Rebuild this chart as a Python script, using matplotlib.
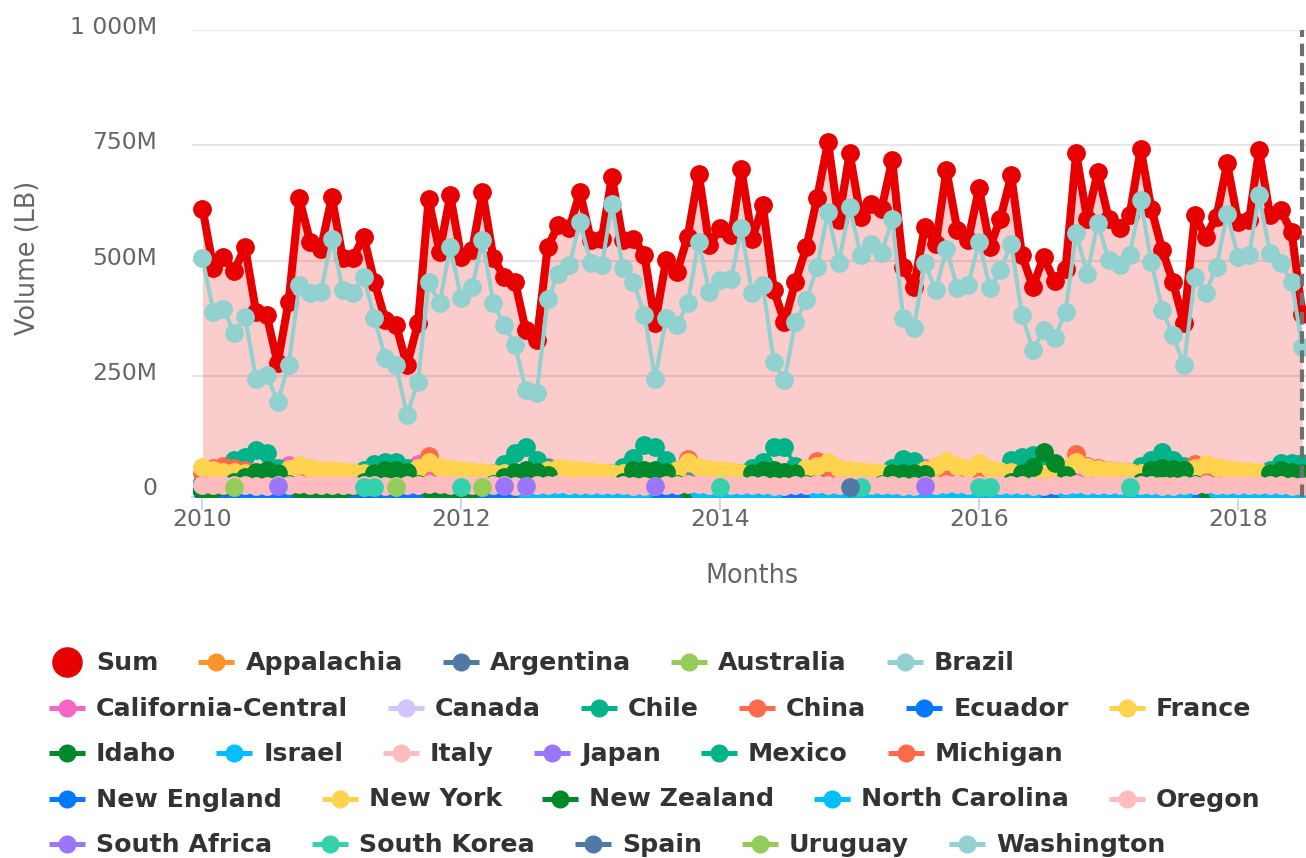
import numpy as np
import pandas as pd
import matplotlib
matplotlib.use("Agg")
import matplotlib.pyplot as plt
import matplotlib.dates as mdates
from matplotlib.transforms import ScaledTranslation

# ---------------- data (million lb) ----------------
months = pd.date_range("2010-01-01", periods=103, freq="MS")

sum_vals = [
    613, 483, 507, 478, 530, 389, 382, 277, 411, 635, 541, 526,
    638, 505, 505, 552, 454, 371, 360, 273, 364, 633, 519, 642,
    508, 523, 649, 505, 465, 454, 349, 327, 530, 577, 570, 649,
    544, 548, 682, 544, 548, 512, 364, 501, 476, 552, 689, 534,
    570, 555, 700, 548, 620, 436, 367, 454, 530, 635, 758, 588,
    733, 595, 624, 613, 718, 487, 443, 573, 537, 696, 566, 544,
    657, 530, 591, 685, 512, 443, 508, 456, 481, 733, 591, 693,
    591, 570, 599, 743, 613, 523, 454, 364, 599, 552, 595, 711,
    584, 588, 740, 599, 610, 562, 385]

washington = [
    505, 389, 396, 342, 378, 244, 252, 194, 273, 447, 429, 432,
    548, 436, 429, 465, 375, 288, 273, 165, 237, 454, 407, 530,
    418, 443, 544, 407, 360, 317, 219, 213, 416, 472, 490, 584,
    494, 490, 624, 483, 454, 382, 244, 375, 360, 407, 541, 432,
    458, 461, 570, 429, 447, 280, 241, 367, 414, 487, 606, 494,
    617, 512, 537, 516, 591, 375, 353, 494, 436, 526, 440, 447,
    541, 440, 479, 537, 382, 306, 349, 331, 389, 559, 472, 581,
    501, 490, 512, 631, 497, 393, 338, 273, 465, 429, 487, 602,
    508, 512, 642, 516, 494, 454, 313]

appalachia = [
    3, 3, 2, 2, 2, 1, 1, 2, 4, 5, 4, 3,
    3, 2, 2, 2, 1, 1, 1, 2, 4, 5, 4, 3,
    3, 3, 2, 2, 2, 1, 1, 2, 3, 5, 4, 3,
    3, 2, 2, 2, 1, 1, 1, 2, 4, 6, 4, 3,
    3, 3, 2, 2, 2, 1, 1, 2, 4, 5, 4, 3,
    3, 3, 2, 2, 1, 1, 1, 2, 4, 5, 4, 3,
    3, 2, 2, 2, 2, 1, 1, 2, 4, 5, 4, 3,
    3, 3, 2, 2, 1, 1, 1, 2, 4, 5, 4, 3,
    3, 3, 2, 2, 2, 1, 1]

argentina = [
    0, 1, 1, 2, 2, 1, 1, 0, 0, 0, 0, 0,
    0, 1, 1, 2, 1, 1, 0, 0, 0, 0, 0, 0,
    0, 1, 2, 2, 1, 1, 1, 0, 0, 0, 0, 0,
    0, 1, 1, 2, 2, 1, 0, 0, 0, 0, 0, 0,
    0, 1, 1, 2, 1, 1, 1, 0, 0, 0, 0, 0,
    0, 1, 2, 2, 1, 1, 0, 0, 0, 0, 0, 0,
    0, 1, 1, 2, 2, 1, 1, 0, 0, 0, 0, 0,
    0, 1, 1, 2, 1, 1, 0, 0, 0, 0, 0, 0,
    0, 1, 1, 2, 1, 1, 0]

australia = [
    0, 0, 1, 1, 1, 1, 0, 0, 0, 0, 0, 0,
    0, 0, 1, 1, 1, 0, 0, 0, 0, 0, 0, 0,
    0, 0, 1, 1, 1, 1, 0, 0, 0, 0, 0, 0,
    0, 0, 1, 1, 0, 0, 0, 0, 0, 0, 0, 0,
    0, 0, 1, 1, 1, 0, 0, 0, 0, 0, 0, 0,
    0, 0, 1, 1, 1, 1, 0, 0, 0, 0, 0, 0,
    0, 0, 1, 1, 0, 0, 0, 0, 0, 0, 0, 0,
    0, 0, 1, 1, 1, 0, 0, 0, 0, 0, 0, 0,
    0, 0, 1, 1, 1, 0, 0]

brazil = [
    1, 1, 1, 1, 0, 0, 0, 0, 1, 1, 1, 1,
    1, 1, 1, 0, 0, 0, 0, 1, 1, 1, 1, 1,
    1, 1, 1, 1, 0, 0, 0, 0, 1, 1, 1, 1,
    1, 1, 1, 0, 0, 0, 0, 1, 1, 1, 1, 1,
    1, 1, 1, 1, 0, 0, 0, 0, 1, 1, 1, 1,
    1, 1, 1, 0, 0, 0, 0, 1, 1, 1, 1, 1,
    1, 1, 1, 1, 0, 0, 0, 0, 1, 1, 1, 1,
    1, 1, 1, 0, 0, 0, 0, 1, 1, 1, 1, 1,
    1, 1, 1, 1, 0, 0, 0]

california_central = [
    2, 2, 1, 1, 1, 2, 4, 20, 56, 30, 5, 3,
    2, 2, 1, 1, 1, 2, 4, 22, 59, 28, 5, 3,
    2, 2, 1, 1, 1, 2, 4, 20, 52, 25, 5, 3,
    2, 2, 1, 1, 1, 2, 4, 18, 45, 22, 5, 3,
    2, 2, 1, 1, 1, 2, 6, 52, 40, 20, 5, 3,
    2, 2, 1, 1, 1, 2, 6, 50, 40, 20, 5, 3,
    2, 2, 1, 1, 1, 2, 5, 30, 45, 20, 5, 3,
    2, 2, 1, 1, 1, 2, 5, 30, 44, 20, 5, 3,
    2, 2, 1, 1, 1, 2, 5]

canada = [
    2, 2, 3, 2, 2, 1, 1, 1, 2, 3, 3, 2,
    2, 3, 3, 2, 1, 1, 1, 1, 2, 3, 3, 2,
    2, 2, 3, 2, 2, 1, 1, 1, 2, 3, 2, 2,
    2, 3, 2, 2, 1, 1, 1, 1, 2, 3, 3, 2,
    2, 2, 3, 2, 2, 1, 1, 1, 2, 3, 3, 2,
    2, 3, 3, 2, 1, 1, 1, 1, 2, 3, 2, 2,
    2, 2, 3, 2, 2, 1, 1, 1, 2, 3, 3, 2,
    2, 3, 2, 2, 1, 1, 1, 1, 2, 3, 3, 2,
    2, 2, 3, 2, 2, 1, 1]

chile = [
    20, 25, 40, 67, 74, 89, 82, 49, 25, 15, 12, 15,
    15, 18, 25, 45, 58, 62, 62, 50, 28, 15, 12, 15,
    15, 18, 25, 40, 58, 82, 96, 68, 50, 20, 15, 15,
    15, 20, 40, 52, 72, 100, 95, 68, 45, 20, 15, 15,
    15, 20, 35, 50, 62, 95, 95, 55, 35, 20, 15, 15,
    15, 18, 25, 35, 50, 70, 65, 40, 25, 15, 12, 15,
    15, 20, 30, 67, 74, 78, 63, 56, 30, 15, 12, 15,
    15, 20, 40, 55, 67, 85, 68, 55, 35, 18, 15, 15,
    15, 20, 30, 45, 60, 60, 60]

china = [
    4, 5, 6, 5, 4, 3, 3, 3, 4, 6, 5, 5,
    5, 5, 6, 5, 4, 3, 3, 4, 4, 6, 5, 5,
    4, 5, 6, 5, 4, 3, 3, 3, 5, 6, 5, 4,
    5, 5, 6, 5, 4, 4, 3, 3, 4, 6, 5, 5,
    4, 5, 6, 5, 4, 3, 3, 3, 4, 6, 6, 5,
    5, 5, 6, 5, 4, 3, 3, 4, 4, 6, 5, 5,
    4, 5, 6, 5, 4, 3, 3, 3, 5, 7, 5, 5,
    5, 5, 6, 5, 4, 3, 3, 3, 4, 6, 5, 5,
    4, 5, 6, 5, 4, 3, 3]

ecuador = [
    0, 0, 1, 1, 0, 0, 0, 1, 1, 0, 0, 0,
    0, 1, 1, 0, 0, 0, 1, 1, 0, 0, 0, 0,
    0, 0, 1, 1, 0, 0, 0, 1, 1, 0, 0, 0,
    0, 1, 1, 0, 0, 0, 1, 1, 0, 0, 0, 0,
    0, 0, 1, 1, 0, 0, 0, 1, 1, 0, 0, 0,
    0, 1, 1, 0, 0, 0, 1, 1, 0, 0, 0, 0,
    0, 0, 1, 1, 0, 0, 0, 1, 1, 0, 0, 0,
    0, 1, 1, 0, 0, 0, 1, 1, 0, 0, 0, 0,
    0, 0, 1, 1, 0, 0, 0]

france = [
    8, 7, 7, 6, 6, 5, 5, 6, 8, 10, 9, 8,
    8, 7, 6, 6, 5, 5, 5, 6, 8, 10, 9, 8,
    8, 7, 7, 6, 6, 5, 5, 6, 8, 9, 9, 8,
    8, 7, 6, 6, 5, 5, 5, 6, 8, 10, 9, 8,
    8, 7, 7, 6, 6, 5, 5, 6, 8, 10, 9, 8,
    8, 7, 6, 6, 5, 5, 5, 6, 8, 10, 9, 8,
    8, 7, 7, 6, 6, 5, 5, 6, 8, 10, 9, 8,
    8, 7, 6, 6, 5, 5, 5, 6, 8, 10, 9, 8,
    8, 7, 7, 6, 6, 5, 5]

idaho = [
    2, 2, 1, 1, 1, 0, 0, 1, 2, 3, 3, 2,
    2, 2, 1, 1, 0, 0, 0, 1, 2, 3, 3, 2,
    2, 2, 1, 1, 1, 0, 0, 1, 2, 3, 2, 2,
    2, 2, 1, 1, 0, 0, 0, 1, 2, 3, 3, 2,
    2, 2, 1, 1, 1, 0, 0, 1, 2, 3, 3, 2,
    2, 2, 1, 1, 0, 0, 0, 1, 2, 3, 3, 2,
    2, 2, 1, 1, 1, 0, 0, 1, 2, 3, 3, 2,
    2, 2, 1, 1, 0, 0, 0, 1, 2, 3, 3, 2,
    2, 2, 1, 1, 1, 0, 0]

israel = [
    1, 1, 1, 2, 2, 2, 1, 1, 1, 1, 1, 1,
    1, 1, 2, 2, 2, 1, 1, 1, 1, 1, 1, 1,
    1, 1, 1, 2, 2, 2, 1, 1, 1, 1, 1, 1,
    1, 1, 2, 2, 2, 1, 1, 1, 1, 1, 1, 1,
    1, 1, 1, 2, 2, 2, 1, 1, 1, 1, 1, 1,
    1, 1, 2, 2, 2, 1, 1, 1, 1, 1, 1, 1,
    1, 1, 1, 2, 2, 2, 1, 1, 1, 1, 1, 1,
    1, 1, 2, 2, 2, 1, 1, 1, 1, 1, 1, 1,
    1, 1, 1, 2, 2, 2, 1]

italy = [
    6, 6, 5, 5, 5, 4, 4, 5, 6, 7, 7, 6,
    6, 5, 5, 5, 4, 4, 4, 5, 6, 7, 7, 6,
    6, 6, 5, 5, 5, 4, 4, 5, 6, 7, 6, 6,
    6, 5, 5, 5, 4, 4, 4, 5, 6, 7, 7, 6,
    6, 6, 5, 5, 5, 4, 4, 5, 6, 7, 7, 6,
    6, 5, 5, 5, 4, 4, 4, 5, 6, 7, 7, 6,
    6, 6, 5, 5, 5, 4, 4, 5, 6, 7, 7, 6,
    6, 5, 5, 5, 4, 4, 4, 5, 6, 7, 7, 6,
    6, 6, 5, 5, 5, 4, 4]

japan = [
    3, 3, 3, 2, 2, 2, 2, 2, 3, 4, 4, 3,
    3, 3, 2, 2, 2, 2, 2, 2, 3, 4, 4, 3,
    3, 3, 3, 2, 2, 2, 2, 2, 3, 4, 3, 3,
    3, 3, 2, 2, 2, 2, 2, 2, 3, 4, 4, 3,
    3, 3, 3, 2, 2, 2, 2, 2, 3, 4, 4, 3,
    3, 3, 2, 2, 2, 2, 2, 2, 3, 4, 4, 3,
    3, 3, 3, 2, 2, 2, 2, 2, 3, 4, 4, 3,
    3, 3, 2, 2, 2, 2, 2, 2, 3, 4, 4, 3,
    3, 3, 3, 2, 2, 2, 2]

mexico = [
    5, 5, 6, 7, 7, 6, 5, 4, 4, 5, 5, 5,
    5, 6, 6, 7, 6, 5, 5, 4, 4, 5, 5, 5,
    5, 5, 6, 7, 7, 6, 5, 4, 4, 5, 5, 5,
    5, 6, 6, 7, 6, 5, 5, 4, 4, 5, 5, 5,
    5, 5, 6, 7, 7, 6, 5, 4, 4, 5, 5, 5,
    5, 6, 6, 7, 6, 5, 5, 4, 4, 5, 5, 5,
    5, 5, 6, 7, 7, 6, 5, 4, 4, 5, 5, 5,
    5, 6, 6, 7, 6, 5, 5, 4, 4, 5, 5, 5,
    5, 5, 6, 7, 7, 6, 5]

michigan = [
    40, 50, 55, 50, 45, 38, 30, 28, 35, 45, 40, 38,
    38, 36, 34, 32, 30, 28, 26, 30, 40, 75, 48, 42,
    40, 38, 36, 34, 32, 30, 28, 30, 35, 45, 42, 40,
    38, 36, 34, 32, 30, 28, 26, 30, 40, 70, 50, 45,
    42, 40, 38, 36, 34, 32, 30, 32, 40, 66, 50, 45,
    42, 40, 38, 36, 34, 32, 30, 32, 40, 55, 48, 44,
    42, 40, 38, 36, 34, 32, 30, 32, 45, 80, 55, 50,
    46, 44, 42, 40, 38, 36, 34, 36, 58, 52, 48, 44,
    42, 40, 38, 36, 34, 32, 30]

new_england = [
    1, 1, 1, 1, 1, 0, 0, 1, 1, 2, 2, 1,
    1, 1, 1, 1, 0, 0, 0, 1, 1, 2, 2, 1,
    1, 1, 1, 1, 1, 0, 0, 1, 1, 2, 1, 1,
    1, 1, 1, 1, 0, 0, 0, 1, 1, 2, 2, 1,
    1, 1, 1, 1, 1, 0, 0, 1, 1, 2, 2, 1,
    1, 1, 1, 1, 0, 0, 0, 1, 1, 2, 2, 1,
    1, 1, 1, 1, 1, 0, 0, 1, 1, 2, 2, 1,
    1, 1, 1, 1, 0, 0, 0, 1, 1, 2, 2, 1,
    1, 1, 1, 1, 1, 0, 0]

new_york = [
    52, 45, 42, 42, 40, 38, 36, 38, 48, 56, 50, 46,
    45, 44, 42, 40, 38, 36, 36, 40, 50, 62, 52, 48,
    46, 44, 42, 40, 38, 36, 35, 38, 45, 50, 48, 45,
    44, 42, 40, 38, 36, 35, 35, 38, 45, 62, 52, 48,
    45, 43, 40, 38, 36, 35, 35, 40, 50, 55, 62, 50,
    46, 44, 42, 40, 38, 36, 38, 45, 55, 65, 55, 50,
    60, 48, 44, 42, 40, 38, 36, 40, 50, 62, 52, 48,
    45, 44, 42, 40, 38, 36, 36, 40, 50, 58, 52, 48,
    46, 44, 42, 40, 38, 36, 36]

new_zealand = [
    3, 5, 10, 20, 30, 42, 45, 38, 15, 5, 3, 3,
    3, 5, 10, 20, 40, 45, 45, 42, 15, 5, 3, 3,
    3, 5, 10, 15, 30, 42, 45, 42, 35, 5, 3, 3,
    3, 5, 10, 20, 45, 45, 45, 42, 15, 5, 3, 3,
    3, 5, 10, 40, 45, 45, 42, 40, 15, 5, 3, 3,
    3, 5, 10, 15, 38, 40, 38, 36, 10, 5, 3, 3,
    3, 5, 10, 20, 40, 53, 85, 60, 35, 5, 3, 3,
    3, 5, 10, 20, 45, 50, 48, 45, 15, 5, 3, 3,
    3, 5, 10, 40, 45, 42, 40]

north_carolina = [
    None, None, None, None, None, None, None, None, None, None, None, None,
    None, None, None, None, None, None, None, None, None, None, None, None,
    None, None, None, None, None, None, 1, 1, 2, 2, 1, 1,
    1, 1, 1, 2, 2, 1, None, None, None, None, 1, 1,
    1, 1, 2, 2, 1, 1, None, None, None, 1, 2, 1,
    1, 1, 2, 1, 1, 1, 1, 1, 2, 2, 1, 1,
    1, 1, 2, 2, 1, 1, None, None, 1, 2, 2, 1,
    1, 1, 1, 2, 2, 1, 1, 1, None, None, 1, 1,
    1, 1, 2, 2, 1, 1, 1]

oregon = [
    14, 13, 13, 12, 12, 11, 11, 12, 13, 15, 14, 14,
    14, 13, 13, 12, 12, 11, 11, 12, 14, 15, 15, 14,
    14, 13, 13, 12, 12, 11, 11, 12, 13, 15, 14, 14,
    13, 13, 12, 12, 11, 11, 11, 12, 13, 15, 15, 14,
    14, 13, 13, 12, 12, 11, 11, 12, 13, 15, 14, 14,
    14, 13, 13, 12, 12, 11, 11, 12, 14, 15, 15, 14,
    14, 13, 13, 12, 12, 11, 11, 12, 13, 15, 14, 14,
    14, 13, 13, 12, 12, 11, 11, 12, 13, 15, 14, 14,
    14, 13, 13, 12, 12, 11, 11]

# sparse series (only the months that were reported)
south_africa = {"2010-08": 10, "2012-05": 10, "2012-07": 10, "2013-07": 10, "2015-08": 10}
south_korea = {"2011-04": 9, "2011-05": 9, "2012-01": 9, "2014-01": 9, "2015-02": 9,
               "2016-01": 9, "2016-02": 9, "2017-03": 9}
spain = {"2015-01": 9}
uruguay = {"2010-04": 9, "2011-07": 9, "2012-03": 9}

series_names = ["Appalachia", "Argentina", "Australia", "Brazil", "California-Central",
                "Canada", "Chile", "China", "Ecuador", "France", "Idaho", "Israel",
                "Italy", "Japan", "Mexico", "Michigan", "New England", "New York",
                "New Zealand", "North Carolina", "Oregon", "South Africa", "South Korea",
                "Spain", "Uruguay", "Washington"]
series_colors = ["#ff922b", "#5079a5", "#94cc5a", "#91d1cf", "#f766c2",
                 "#d2c4fc", "#00b388", "#ff6b4a", "#0078ff", "#ffd34e", "#00892a",
                 "#00bfff", "#ffbcbf", "#9b76fb", "#00b388", "#ff6b4a", "#0078ff",
                 "#ffd34e", "#00892a", "#00bfff", "#ffbcbf", "#9b76fb", "#35d1ad",
                 "#5079a5", "#94cc5a", "#91d1cf"]
sum_color = "#e60000"

y_ticks = [0, 250, 500, 750, 1000]
y_tick_labels = ["0", "250M", "500M", "750M", "1 000M"]
x_tick_years = ["2010", "2012", "2014", "2016", "2018"]


def sparse(d):
    s = pd.Series(np.nan, index=months)
    for k, v in d.items():
        s[pd.Timestamp(k + "-01")] = v
    return s.values


series_values = {
    "Appalachia": appalachia, "Argentina": argentina, "Australia": australia,
    "Brazil": brazil, "California-Central": california_central, "Canada": canada,
    "Chile": chile, "China": china, "Ecuador": ecuador, "France": france,
    "Idaho": idaho, "Israel": israel, "Italy": italy, "Japan": japan,
    "Mexico": mexico, "Michigan": michigan, "New England": new_england,
    "New York": new_york, "New Zealand": new_zealand,
    "North Carolina": north_carolina, "Oregon": oregon,
    "South Africa": sparse(south_africa), "South Korea": sparse(south_korea),
    "Spain": sparse(spain), "Uruguay": sparse(uruguay), "Washington": washington,
}

# ---------------- figure ----------------
W, H = 1306, 858
fig = plt.figure(figsize=(W / 100, H / 100), dpi=100)
ax_left, ax_right, ax_top, ax_bottom = 192, 1306, 30.3, 496.5
ax = fig.add_axes([ax_left / W, 1 - ax_bottom / H, (ax_right - ax_left) / W,
                   (ax_bottom - ax_top) / H])

x = mdates.date2num(months.to_pydatetime())
sv = np.array(sum_vals, dtype=float)
ymin = -12
ax.fill_between(x, sv, ymin, color=sum_color, alpha=0.2, lw=0, zorder=1)
ax.plot(x, sv, color=sum_color, lw=5.8, marker="o", ms=12.5,
        solid_joinstyle="round", zorder=2)

for k, (name, col) in enumerate(zip(series_names, series_colors)):
    vals = np.array(series_values[name], dtype=float)
    ax.plot(x, vals, color=col, lw=2.9, marker="o", ms=12.5,
            solid_joinstyle="round", zorder=3 + k)

t0 = mdates.date2num(pd.Timestamp("2010-01-01"))
ax.set_xlim(t0 - 29.6, t0 + 3113.5)
ax.set_ylim(ymin, 1000)

ax.axvline(mdates.date2num(months[-1]), color="#707070", lw=3,
           ls=(0, (3, 1.6)), zorder=60)

# axes styling
for s in ["left", "top", "right"]:
    ax.spines[s].set_visible(False)
ax.spines["bottom"].set_color("#ccd6eb")
ax.spines["bottom"].set_linewidth(1.4)
ax.yaxis.grid(True, color="#e6e6e6", lw=1.5)
ax.set_axisbelow(True)

ax.set_yticks(y_ticks)
ax.set_yticklabels(y_tick_labels)
ax.tick_params(axis="y", length=0, pad=25, labelsize=16.9, labelcolor="#666666")
for lab in ax.get_yticklabels():
    lab.set_transform(lab.get_transform() + ScaledTranslation(0, 5 / 100, fig.dpi_scale_trans))

ax.set_xticks([mdates.date2num(pd.Timestamp(y + "-01-01")) for y in x_tick_years])
ax.set_xticklabels(x_tick_years)
ax.tick_params(axis="x", direction="out", length=9.5, width=1.4, color="#ccd6eb",
               pad=-1.5, labelsize=16.9, labelcolor="#666666")

fig.text(28 / W, 1 - 258 / H, "Volume (LB)", rotation=90, ha="center", va="center",
         fontsize=18.4, color="#666666")
fig.text(752 / W, 1 - 576 / H, "Months", ha="center", va="center",
         fontsize=18.4, color="#666666")

# ---------------- legend (flowing, Highcharts-like) ----------------
lax = fig.add_axes([0, 0, 1, 1], zorder=100)
lax.set_xlim(0, W)
lax.set_ylim(H, 0)
lax.axis("off")
lax.patch.set_alpha(0)

renderer = fig.canvas.get_renderer()
items = [("Sum", sum_color)] + list(zip(series_names, series_colors))
x0, row = 49, 0
row_y0, row_step = 662, 45.5
for name, col in items:
    y = row_y0 + row * row_step
    t = lax.text(x0 + 47, y + 1, name, fontsize=18.2, fontweight="bold", color="#333333",
                 ha="left", va="center")
    w = t.get_window_extent(renderer).width
    if x0 + 47 + w > 1300:
        row += 1
        x0 = 49
        y = row_y0 + row * row_step
        t.set_position((x0 + 47, y + 1))
    if name == "Sum":
        lax.plot([x0 + 18], [y], marker="o", ms=21, color=col, lw=0)
    else:
        lax.plot([x0, x0 + 36], [y, y], color=col, lw=3.6, solid_capstyle="butt")
        lax.plot([x0 + 18], [y], marker="o", ms=12, color=col, lw=0)
    x0 += 47 + w + 40

fig.savefig("out.png", dpi=100)
